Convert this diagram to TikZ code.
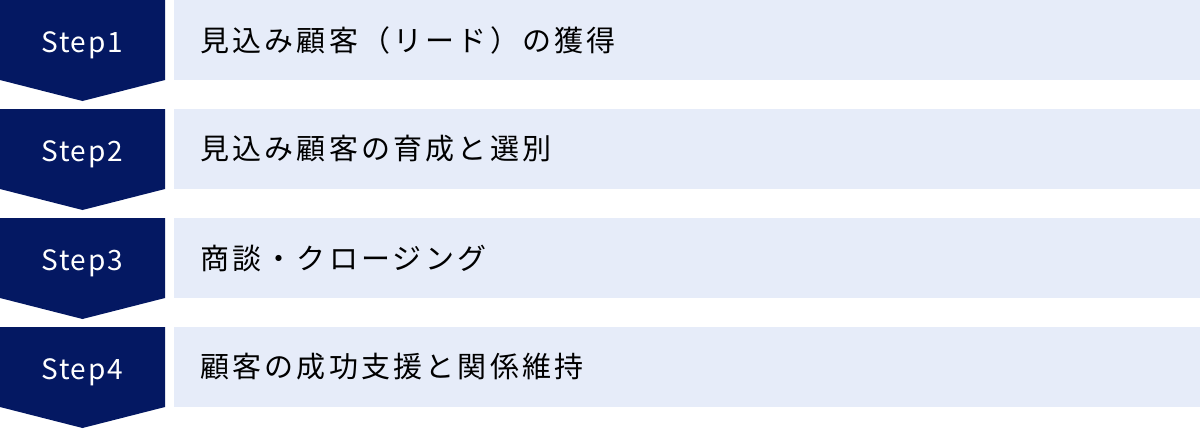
\documentclass[tikz,border=0pt]{standalone}
\usepackage{fontspec}
\setmainfont{Noto Sans}
\newfontfamily\jpfont{Noto Sans CJK JP}[LetterSpace=11]
\newfontfamily\stepfont{Noto Sans CJK JP}[LetterSpace=6]
\usepackage{tikz}
\usetikzlibrary{calc}
\definecolor{stepnavy}{HTML}{041862}
\definecolor{bandblue}{HTML}{E6ECF9}

\begin{document}
\begin{tikzpicture}[x=0.5pt, y=-0.5pt,
		badge/.style={fill=stepnavy},
		band/.style={fill=bandblue},
		steplabel/.style={text=white, font=\stepfont\fontsize{14pt}{16pt}\selectfont, inner sep=0pt, anchor=base},
		tasklabel/.style={text=black, font=\jpfont\fontsize{14.5pt}{16pt}\selectfont, inner sep=0pt, anchor=west}]
			\useasboundingbox (0,0) rectangle (1200,429);
			% Step 1
			\fill[badge] (0,0) -- (165,0) -- (165,80) -- (82.5,101) -- (0,80) -- cycle;
			\fill[band] (174,0) rectangle (1200,80);
			\node[steplabel] (step1) at (82,52) {Step1};
			\node[tasklabel] (task1) at (200,40) {見込み顧客（リード）の獲得};
			% Step 2
			\fill[badge] (0,109) -- (165,109) -- (165,189) -- (82.5,210) -- (0,189) -- cycle;
			\fill[band] (174,109) rectangle (1200,189);
			\node[steplabel] (step2) at (82,161) {Step2};
			\node[tasklabel] (task2) at (200,149) {見込み顧客の育成と選別};
			% Step 3
			\fill[badge] (0,218) -- (165,218) -- (165,298) -- (82.5,319) -- (0,298) -- cycle;
			\fill[band] (174,218) rectangle (1200,298);
			\node[steplabel] (step3) at (82,270) {Step3};
			\node[tasklabel] (task3) at (200,258) {商談・クロージング};
			% Step 4
			\fill[badge] (0,327) -- (165,327) -- (165,407) -- (82.5,428) -- (0,407) -- cycle;
			\fill[band] (174,327) rectangle (1200,407);
			\node[steplabel] (step4) at (82,379) {Step4};
			\node[tasklabel] (task4) at (200,367) {顧客の成功支援と関係維持};
		\end{tikzpicture}
\end{document}
